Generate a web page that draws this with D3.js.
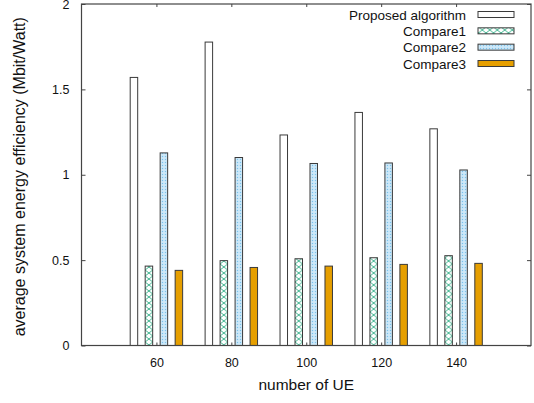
<!DOCTYPE html>
<html>
<head>
<meta charset="utf-8">
<script src="https://cdn.jsdelivr.net/npm/d3@7"></script>
<style>
  html, body { margin: 0; padding: 0; background: #fff; }
  svg { display: block; font-family: "Liberation Sans", Arial, sans-serif; }
</style>
</head>
<body>
<svg id="chart" width="534" height="403"></svg>
<script>
// Data: average system energy efficiency per number of UE
const categories = ["60", "80", "100", "120", "140"];
const seriesNames = ["Proposed algorithm", "Compare1", "Compare2", "Compare3"];
const proposed = [1.570, 1.777, 1.233, 1.365, 1.269];
const compare1 = [0.465, 0.497, 0.508, 0.514, 0.526];
const compare2 = [1.128, 1.101, 1.066, 1.069, 1.028];
const compare3 = [0.440, 0.457, 0.465, 0.475, 0.481];
const yTicks = [0, 0.5, 1, 1.5, 2];
const xLabel = "number of UE";
const yLabel = "average system energy efficiency (Mbit/Watt)";

const seriesValues = [proposed, compare1, compare2, compare3];
const fills = ["#ffffff", "url(#hatchGreen)", "url(#dotBlue)", "#e69f00"];

const svg = d3.select("#chart");
const plot = { left: 81.5, right: 531, top: 4, bottom: 345.5 };

// cluster index scale: one unit per category, 4 bar slots + 1 gap slot
const x = d3.scaleLinear().domain([-1, categories.length]).range([plot.left, plot.right]);
const y = d3.scaleLinear().domain([0, 2]).range([plot.bottom, plot.top]);
const slot = 0.2;
const barW = x(slot * 0.5) - x(0);

// fill patterns
const defs = svg.append("defs");
const hatch = defs.append("pattern")
  .attr("id", "hatchGreen")
  .attr("patternUnits", "userSpaceOnUse")
  .attr("x", x(0 + (1 - 1.5) * slot) - barW / 2)
  .attr("y", 0)
  .attr("width", barW)
  .attr("height", 6);
hatch.append("rect").attr("width", barW).attr("height", 6).attr("fill", "#fff");
hatch.append("path")
  .attr("d", `M0,0L${barW},6M${barW},0L0,6`)
  .attr("stroke", "#2fae86").attr("stroke-width", 0.9).attr("fill", "none");

const dots = defs.append("pattern")
  .attr("id", "dotBlue")
  .attr("patternUnits", "userSpaceOnUse")
  .attr("width", 3).attr("height", 3);
dots.append("rect").attr("width", 3).attr("height", 3).attr("fill", "#c4e4f7");
dots.append("rect").attr("x", 0).attr("y", 0).attr("width", 1).attr("height", 1).attr("fill", "#7cc3ec");
dots.append("rect").attr("x", 1.5).attr("y", 1.5).attr("width", 1).attr("height", 1).attr("fill", "#e8f5fc");

// bars
seriesValues.forEach((vals, j) => {
  svg.append("g").selectAll("rect")
    .data(vals)
    .join("rect")
    .attr("x", (d, i) => x(i + (j - 1.5) * slot) - barW / 2)
    .attr("y", d => y(d))
    .attr("width", barW)
    .attr("height", d => y(0) - y(d))
    .attr("fill", fills[j])
    .attr("stroke", "#3a3a3a")
    .attr("stroke-width", 1);
});

// axes with inward ticks, mirrored on top and right
const tickIdx = categories.map((c, i) => i);
const axisColor = "#444";

const gx = svg.append("g")
  .attr("transform", `translate(0,${plot.bottom})`)
  .call(d3.axisBottom(x).tickValues(tickIdx).tickFormat(i => categories[i])
    .tickSizeInner(-3).tickSizeOuter(0).tickPadding(13));
const gxTop = svg.append("g")
  .attr("transform", `translate(0,${plot.top})`)
  .call(d3.axisTop(x).tickValues(tickIdx).tickFormat("")
    .tickSizeInner(-3).tickSizeOuter(0));
const gy = svg.append("g")
  .attr("transform", `translate(${plot.left},0)`)
  .call(d3.axisLeft(y).tickValues(yTicks).tickFormat(d3.format("~g"))
    .tickSizeInner(-4).tickSizeOuter(0).tickPadding(12));
const gyRight = svg.append("g")
  .attr("transform", `translate(${plot.right},0)`)
  .call(d3.axisRight(y).tickValues(yTicks).tickFormat("")
    .tickSizeInner(-4).tickSizeOuter(0));

[gx, gxTop, gy, gyRight].forEach(g => {
  g.select(".domain").remove();
  g.selectAll(".tick line").attr("stroke", axisColor);
  g.selectAll("text").attr("font-size", 12.5).attr("fill", "#111")
    .attr("font-family", "'Liberation Sans', Arial, sans-serif");
});

// plot border
svg.append("rect")
  .attr("x", plot.left).attr("y", plot.top)
  .attr("width", plot.right - plot.left)
  .attr("height", plot.bottom - plot.top)
  .attr("fill", "none").attr("stroke", axisColor).attr("stroke-width", 1.2);

// axis titles
svg.append("text")
  .attr("x", (plot.left + plot.right) / 2)
  .attr("y", 390)
  .attr("text-anchor", "middle")
  .attr("font-size", 15.5)
  .attr("fill", "#111")
  .text(xLabel);

svg.append("text")
  .attr("transform", `translate(25,${(plot.top + plot.bottom) / 2 + 2}) rotate(-90)`)
  .attr("text-anchor", "middle")
  .attr("font-size", 16)
  .attr("fill", "#111")
  .text(yLabel);

// legend
const legend = svg.append("g");
const legendY = d3.scaleLinear().domain([0, 3]).range([14.5, 63.5]);
seriesNames.forEach((name, j) => {
  const cy = legendY(j);
  legend.append("text")
    .attr("x", 466).attr("y", cy + 5)
    .attr("text-anchor", "end")
    .attr("font-size", 13.5)
    .attr("fill", "#111")
    .text(name);
  legend.append("rect")
    .attr("x", 478).attr("y", cy - 3)
    .attr("width", 36).attr("height", 6)
    .attr("fill", fills[j])
    .attr("stroke", "#3a3a3a").attr("stroke-width", 1);
});
</script>
</body>
</html>
